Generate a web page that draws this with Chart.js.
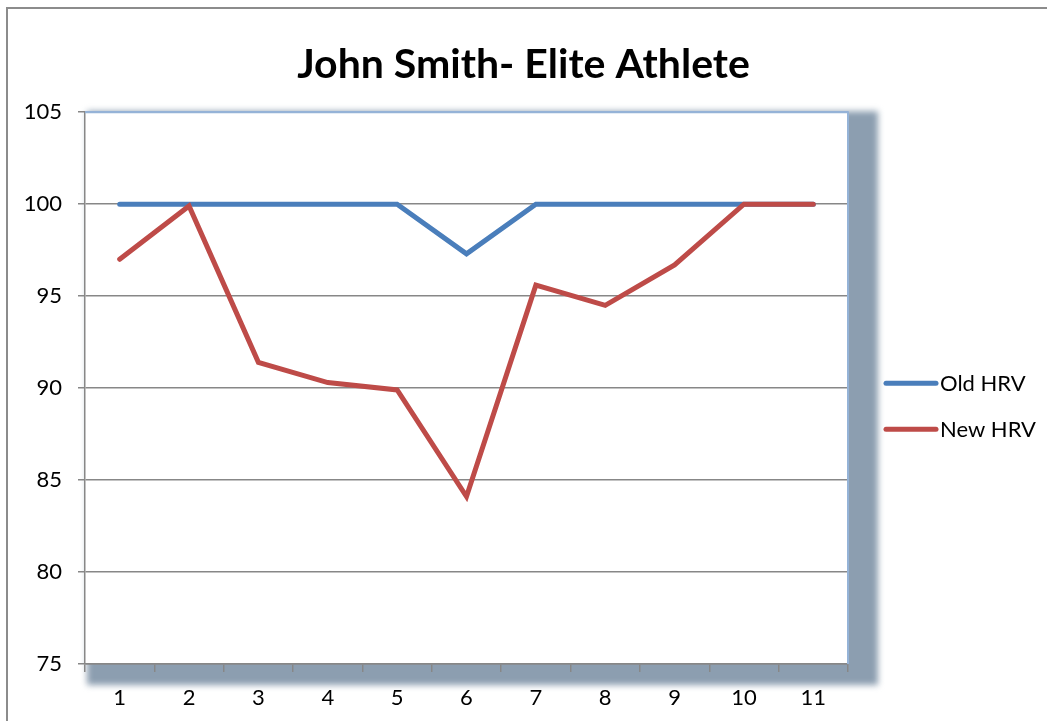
<!DOCTYPE html>
<html>
<head>
<meta charset="utf-8">
<title>John Smith- Elite Athlete</title>
<script src="https://cdn.jsdelivr.net/npm/chart.js@4"></script>
<style>
 body{margin:0;background:#fff;}
 #hrvChart{display:block;}
</style>
</head>
<body>
<canvas id="hrvChart" width="1047" height="721"></canvas>
<script>
// session numbers along the bottom
var sessions = ['1','2','3','4','5','6','7','8','9','10','11'];
// HRV scores
var oldHRV = [100, 100, 100, 100, 100, 97.3, 100, 100, 100, 100, 100];
var newHRV = [97.0, 99.9, 91.4, 90.3, 89.9, 84.1, 95.6, 94.5, 96.7, 100, 100];
var seriesNames = ['Old HRV', 'New HRV'];
var seriesColors = ['#4A7EBB', '#BE4B48'];
var yTicks = {min: 75, max: 105, step: 5};

var gridGrey = '#878787';
var edgeBlue = '#95B3D7';
var fontName = 'Lato, "Open Sans", sans-serif';
var labelSize = 22;

// frame, drop shadow, plot edges and the legend drawn by hand
var decor = {
  id: 'decor',
  beforeDraw: function(chart){
    var ctx = chart.ctx, a = chart.chartArea;
    ctx.save();
    ctx.fillStyle = '#fff';
    ctx.fillRect(0, 0, chart.width, chart.height);
    // outer frame (runs off the right and bottom)
    ctx.strokeStyle = '#8c8c8c';
    ctx.lineWidth = 2;
    ctx.strokeRect(7, 8, chart.width + 50, chart.height + 50);
    // shadow of the plot area
    ctx.filter = 'blur(3px)';
    ctx.fillStyle = '#8C9EB0';
    ctx.fillRect(a.left + 2, a.top - 1, a.width + 28, a.height + 22);
    ctx.filter = 'none';
    ctx.fillStyle = '#fff';
    ctx.fillRect(a.left, a.top, a.width, a.height);
    ctx.restore();
  },
  beforeDatasetsDraw: function(chart){
    var ctx = chart.ctx, a = chart.chartArea;
    ctx.save();
    ctx.strokeStyle = edgeBlue;
    ctx.lineWidth = 2;
    ctx.beginPath();
    ctx.moveTo(a.left, a.top);
    ctx.lineTo(a.right, a.top);
    ctx.lineTo(a.right, a.bottom);
    ctx.stroke();
    ctx.restore();
  },
  afterDraw: function(chart){
    var ctx = chart.ctx, a = chart.chartArea;
    ctx.save();
    ctx.font = labelSize + 'px ' + fontName;
    ctx.textBaseline = 'middle';
    ctx.fillStyle = '#000';
    chart.data.datasets.forEach(function(ds, i){
      var y = a.top + 271 + i * 46;
      ctx.strokeStyle = ds.borderColor;
      ctx.lineWidth = 5;
      ctx.lineCap = 'round';
      ctx.beginPath();
      ctx.moveTo(a.right + 38, y);
      ctx.lineTo(a.right + 88, y);
      ctx.stroke();
      ctx.fillText(ds.label, a.right + 92, y + 1);
    });
    ctx.restore();
  }
};

var ctx = document.getElementById('hrvChart').getContext('2d');
var chart = new Chart(ctx, {
  type: 'line',
  data: {
    labels: sessions,
    datasets: [
      {label: seriesNames[0], data: oldHRV, borderColor: seriesColors[0], backgroundColor: seriesColors[0], order: 2},
      {label: seriesNames[1], data: newHRV, borderColor: seriesColors[1], backgroundColor: seriesColors[1], order: 1}
    ]
  },
  options: {
    responsive: false,
    animation: false,
    layout: {padding: 0},
    elements: {
      line: {borderWidth: 5, tension: 0, borderCapStyle: 'round', borderJoinStyle: 'miter', fill: false},
      point: {radius: 0, hoverRadius: 0}
    },
    plugins: {
      legend: {display: false},
      tooltip: {enabled: false},
      title: {
        display: true,
        text: 'John Smith- Elite Athlete',
        color: '#000',
        font: {family: fontName, size: 41, weight: 'bold', lineHeight: 1.2},
        padding: {top: 40, bottom: 23}
      }
    },
    scales: {
      x: {
        offset: true,
        grid: {display: true, drawOnChartArea: false, offset: true, tickLength: 8, color: gridGrey, lineWidth: 1.5},
        border: {color: gridGrey, width: 1.5},
        ticks: {color: '#000', font: {family: fontName, size: labelSize}, padding: 13, maxRotation: 0},
        afterFit: function(s){ s.height = 57; }
      },
      y: {
        min: yTicks.min,
        max: yTicks.max,
        grid: {
          color: function(c){ return c.tick && c.tick.value === yTicks.max ? edgeBlue : gridGrey; },
          tickColor: gridGrey,
          lineWidth: 1.5,
          tickLength: 7
        },
        border: {color: gridGrey, width: 1.5},
        ticks: {stepSize: yTicks.step, color: '#000', font: {family: fontName, size: labelSize}, padding: 16},
        afterFit: function(s){ s.width = 85; }
      },
      // empty axis on the right that keeps room for the legend
      side: {
        position: 'right',
        min: yTicks.min,
        max: yTicks.max,
        grid: {drawOnChartArea: false, drawTicks: false},
        border: {display: false},
        ticks: {display: false},
        afterFit: function(s){ s.width = 199; }
      }
    }
  },
  plugins: [decor]
});
</script>
</body>
</html>
